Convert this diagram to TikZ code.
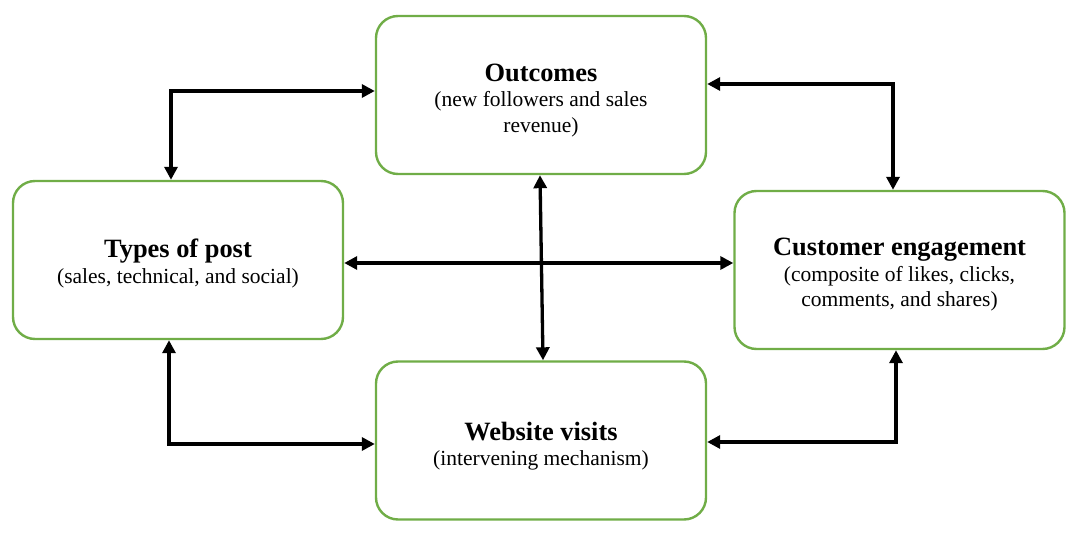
\documentclass[tikz,border=0pt]{standalone}
\usepackage{fontspec}
\setmainfont{Liberation Serif}
\usetikzlibrary{arrows.meta}
\definecolor{boxgreen}{HTML}{70AD47}
\tikzset{
  box/.style={draw=boxgreen, line width=2.4pt, rounded corners=22pt, fill=white,
    minimum width=330pt, minimum height=158pt, inner sep=0pt},
  txt/.style={inner sep=0pt, align=center, font=\fontsize{21.5}{25.5}\selectfont},
  dbl/.style={line width=3.3pt, {Triangle[length=13pt,width=13pt]}-{Triangle[length=13pt,width=13pt]}},
}
\newcommand{\ttl}[1]{{\fontsize{26.4}{28}\selectfont\bfseries #1}}
\begin{document}
\begin{tikzpicture}[x=1pt,y=-1pt]
\useasboundingbox (0,0) rectangle (1071,540);
\node[box] (outcomes) at (541,95) {};
\node[box] (types) at (178,260) {};
\node[box] (cust) at (899.5,270) {};
\node[box] (web) at (541,440.5) {};
\node[txt] (outcomes-t) at ([yshift=-5.5pt]outcomes.center) {\ttl{Outcomes}\\(new followers and sales\\revenue)};
\node[txt] (types-t) at ([yshift=-3.5pt]types.center) {\ttl{Types of post}\\(sales, technical, and social)};
\node[txt] (cust-t) at ([yshift=-5pt]cust.center) {\ttl{Customer engagement}\\(composite of likes, clicks,\\comments, and shares)};
\node[txt] (web-t) at ([yshift=-5.5pt]web.center) {\ttl{Website visits}\\(intervening mechanism)};
\draw[dbl] ([xshift=-7pt]types.north) |- ([yshift=4pt]outcomes.west);
\draw[dbl] ([yshift=11pt]outcomes.east) -| ([xshift=-6.5pt]cust.north);
\draw[dbl] ([yshift=-3pt]types.east) -- ([yshift=7pt]cust.west);
\draw[dbl] ([xshift=-1pt]outcomes.south) -- ([xshift=2pt]web.north);
\draw[dbl] ([xshift=-9pt]types.south) |- ([yshift=-3.5pt]web.west);
\draw[dbl] ([yshift=-1.5pt]web.east) -| ([xshift=-3.5pt]cust.south);
\end{tikzpicture}
\end{document}
